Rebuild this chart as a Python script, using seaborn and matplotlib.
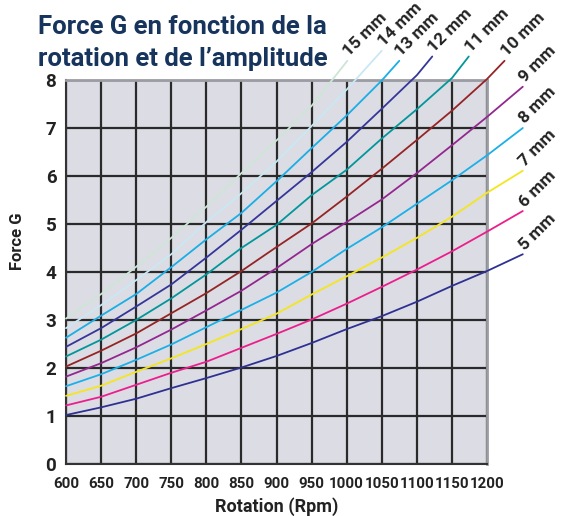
import matplotlib
matplotlib.use("Agg")
import matplotlib.pyplot as plt
import seaborn as sns
import pandas as pd

# ---------------- data ----------------
rpm = [600, 650, 700, 750, 800, 850, 900, 950, 1000, 1050, 1100, 1150, 1200]

g_5mm = [1.02, 1.18, 1.36, 1.58, 1.79, 2.01, 2.25, 2.52, 2.81, 3.08, 3.38, 3.71, 4.02]
g_6mm = [1.22, 1.40, 1.65, 1.90, 2.13, 2.42, 2.71, 3.01, 3.34, 3.69, 4.05, 4.43, 4.84]
g_7mm = [1.42, 1.63, 1.92, 2.20, 2.50, 2.81, 3.13, 3.53, 3.91, 4.30, 4.71, 5.15, 5.65]
g_8mm = [1.62, 1.87, 2.17, 2.49, 2.85, 3.21, 3.57, 4.00, 4.48, 4.93, 5.42, 5.91, 6.43]
g_9mm = [1.82, 2.10, 2.43, 2.80, 3.20, 3.61, 4.08, 4.58, 5.04, 5.51, 6.06, 6.64, 7.23]
g_10mm = [2.03, 2.36, 2.72, 3.14, 3.56, 4.02, 4.52, 5.01, 5.57, 6.15, 6.75, 7.36, 8.02]
g_11mm = [2.24, 2.59, 3.00, 3.45, 3.95, 4.50, 4.98, 5.60, 6.13, 6.78, 7.39, 8.04]
g_12mm = [2.44, 2.83, 3.28, 3.74, 4.30, 4.88, 5.48, 6.08, 6.71, 7.40, 8.10]
g_13mm = [2.63, 3.09, 3.54, 4.10, 4.68, 5.23, 5.89, 6.58, 7.26, 7.99]
g_14mm = [2.83, 3.31, 3.83, 4.37, 5.04, 5.64, 6.30, 7.04, 7.80]
g_15mm = [3.03, 3.54, 4.11, 4.71, 5.36, 6.06, 6.74, 7.46]

amplitudes = ["5 mm", "6 mm", "7 mm", "8 mm", "9 mm", "10 mm",
              "11 mm", "12 mm", "13 mm", "14 mm", "15 mm"]
# end of each leader line, where the label sits
tip_rpm = [1251, 1251, 1251, 1251, 1251, 1225, 1174, 1122, 1075, 1050, 1001]
tip_g = [4.37, 5.27, 6.11, 7.00, 7.86, 8.40, 8.49, 8.49, 8.40, 8.61, 8.40]

x_ticks = [600, 650, 700, 750, 800, 850, 900, 950, 1000, 1050, 1100, 1150, 1200]
y_ticks = [0, 1, 2, 3, 4, 5, 6, 7, 8]

colors = ["#2e3192", "#ec1e8c", "#f4e61e", "#1ab0e8", "#93278f", "#962424",
          "#00979b", "#34369a", "#1aaee6", "#c9e8f4", "#cde6d6"]

series = [g_5mm, g_6mm, g_7mm, g_8mm, g_9mm, g_10mm,
          g_11mm, g_12mm, g_13mm, g_14mm, g_15mm]

rows = []
for amp, vals, tr, tg in zip(amplitudes, series, tip_rpm, tip_g):
    for r, g in zip(rpm, vals):
        rows.append({"rpm": r, "g": g, "amp": amp})
    rows.append({"rpm": tr, "g": tg, "amp": amp})
df = pd.DataFrame(rows)

# ---------------- style ----------------
sns.set_theme(style="white")
plt.rcParams["font.family"] = ["Roboto", "DejaVu Sans"]

fig = plt.figure(figsize=(5.67, 5.16), dpi=100)
ax = fig.add_axes([66 / 567, 1 - 464 / 516, 421 / 567, 384 / 516])
ax.set_facecolor("#dcdce4")

sns.lineplot(data=df, x="rpm", y="g", hue="amp", hue_order=amplitudes,
             palette=dict(zip(amplitudes, colors)), legend=False,
             estimator=None, sort=False, lw=1.3, clip_on=False, zorder=3, ax=ax)

ax.set_xlim(600, 1200)
ax.set_ylim(0, 8)
ax.set_xticks(x_ticks)
ax.set_yticks(y_ticks)
ax.set_xticklabels([str(t) for t in x_ticks], fontsize=10.8, fontweight="bold",
                   color="#222222")
ax.set_yticklabels([str(t) for t in y_ticks], fontsize=13.5, fontweight="bold",
                   color="#222222")
ax.grid(True, color="#2a2a2a", lw=1.6)
ax.set_axisbelow(True)
ax.tick_params(axis="both", direction="out", length=5, width=1.2, color="#333333",
               pad=4)
ax.tick_params(axis="y", pad=2)

for side in ["top", "right"]:
    ax.spines[side].set_color("#9c9ca4")
    ax.spines[side].set_linewidth(2)
for side in ["left", "bottom"]:
    ax.spines[side].set_color("#333333")
    ax.spines[side].set_linewidth(1.5)

ax.set_xlabel("Rotation (Rpm)", fontsize=13, fontweight="bold", color="#222222")
ax.set_ylabel("Force G", fontsize=12, fontweight="bold", color="#222222")
ax.xaxis.set_label_coords(0.5, -0.086)
ax.yaxis.set_label_coords(-0.097, 0.58)

for amp, tr, tg in zip(amplitudes, tip_rpm, tip_g):
    ax.annotate(amp, xy=(tr, tg), xytext=(3, 1), textcoords="offset points",
                rotation=45, rotation_mode="anchor", ha="left", va="bottom",
                fontsize=12.5, fontweight="bold", color="#222222",
                annotation_clip=False)

fig.text(38 / 567, 1 - 15 / 516, "Force G en fonction de la\nrotation et de l\u2019amplitude",
         fontsize=18.5, fontweight="bold", color="#17345c", ha="left", va="top",
         linespacing=1.4)

fig.savefig("out.png", dpi=100)
